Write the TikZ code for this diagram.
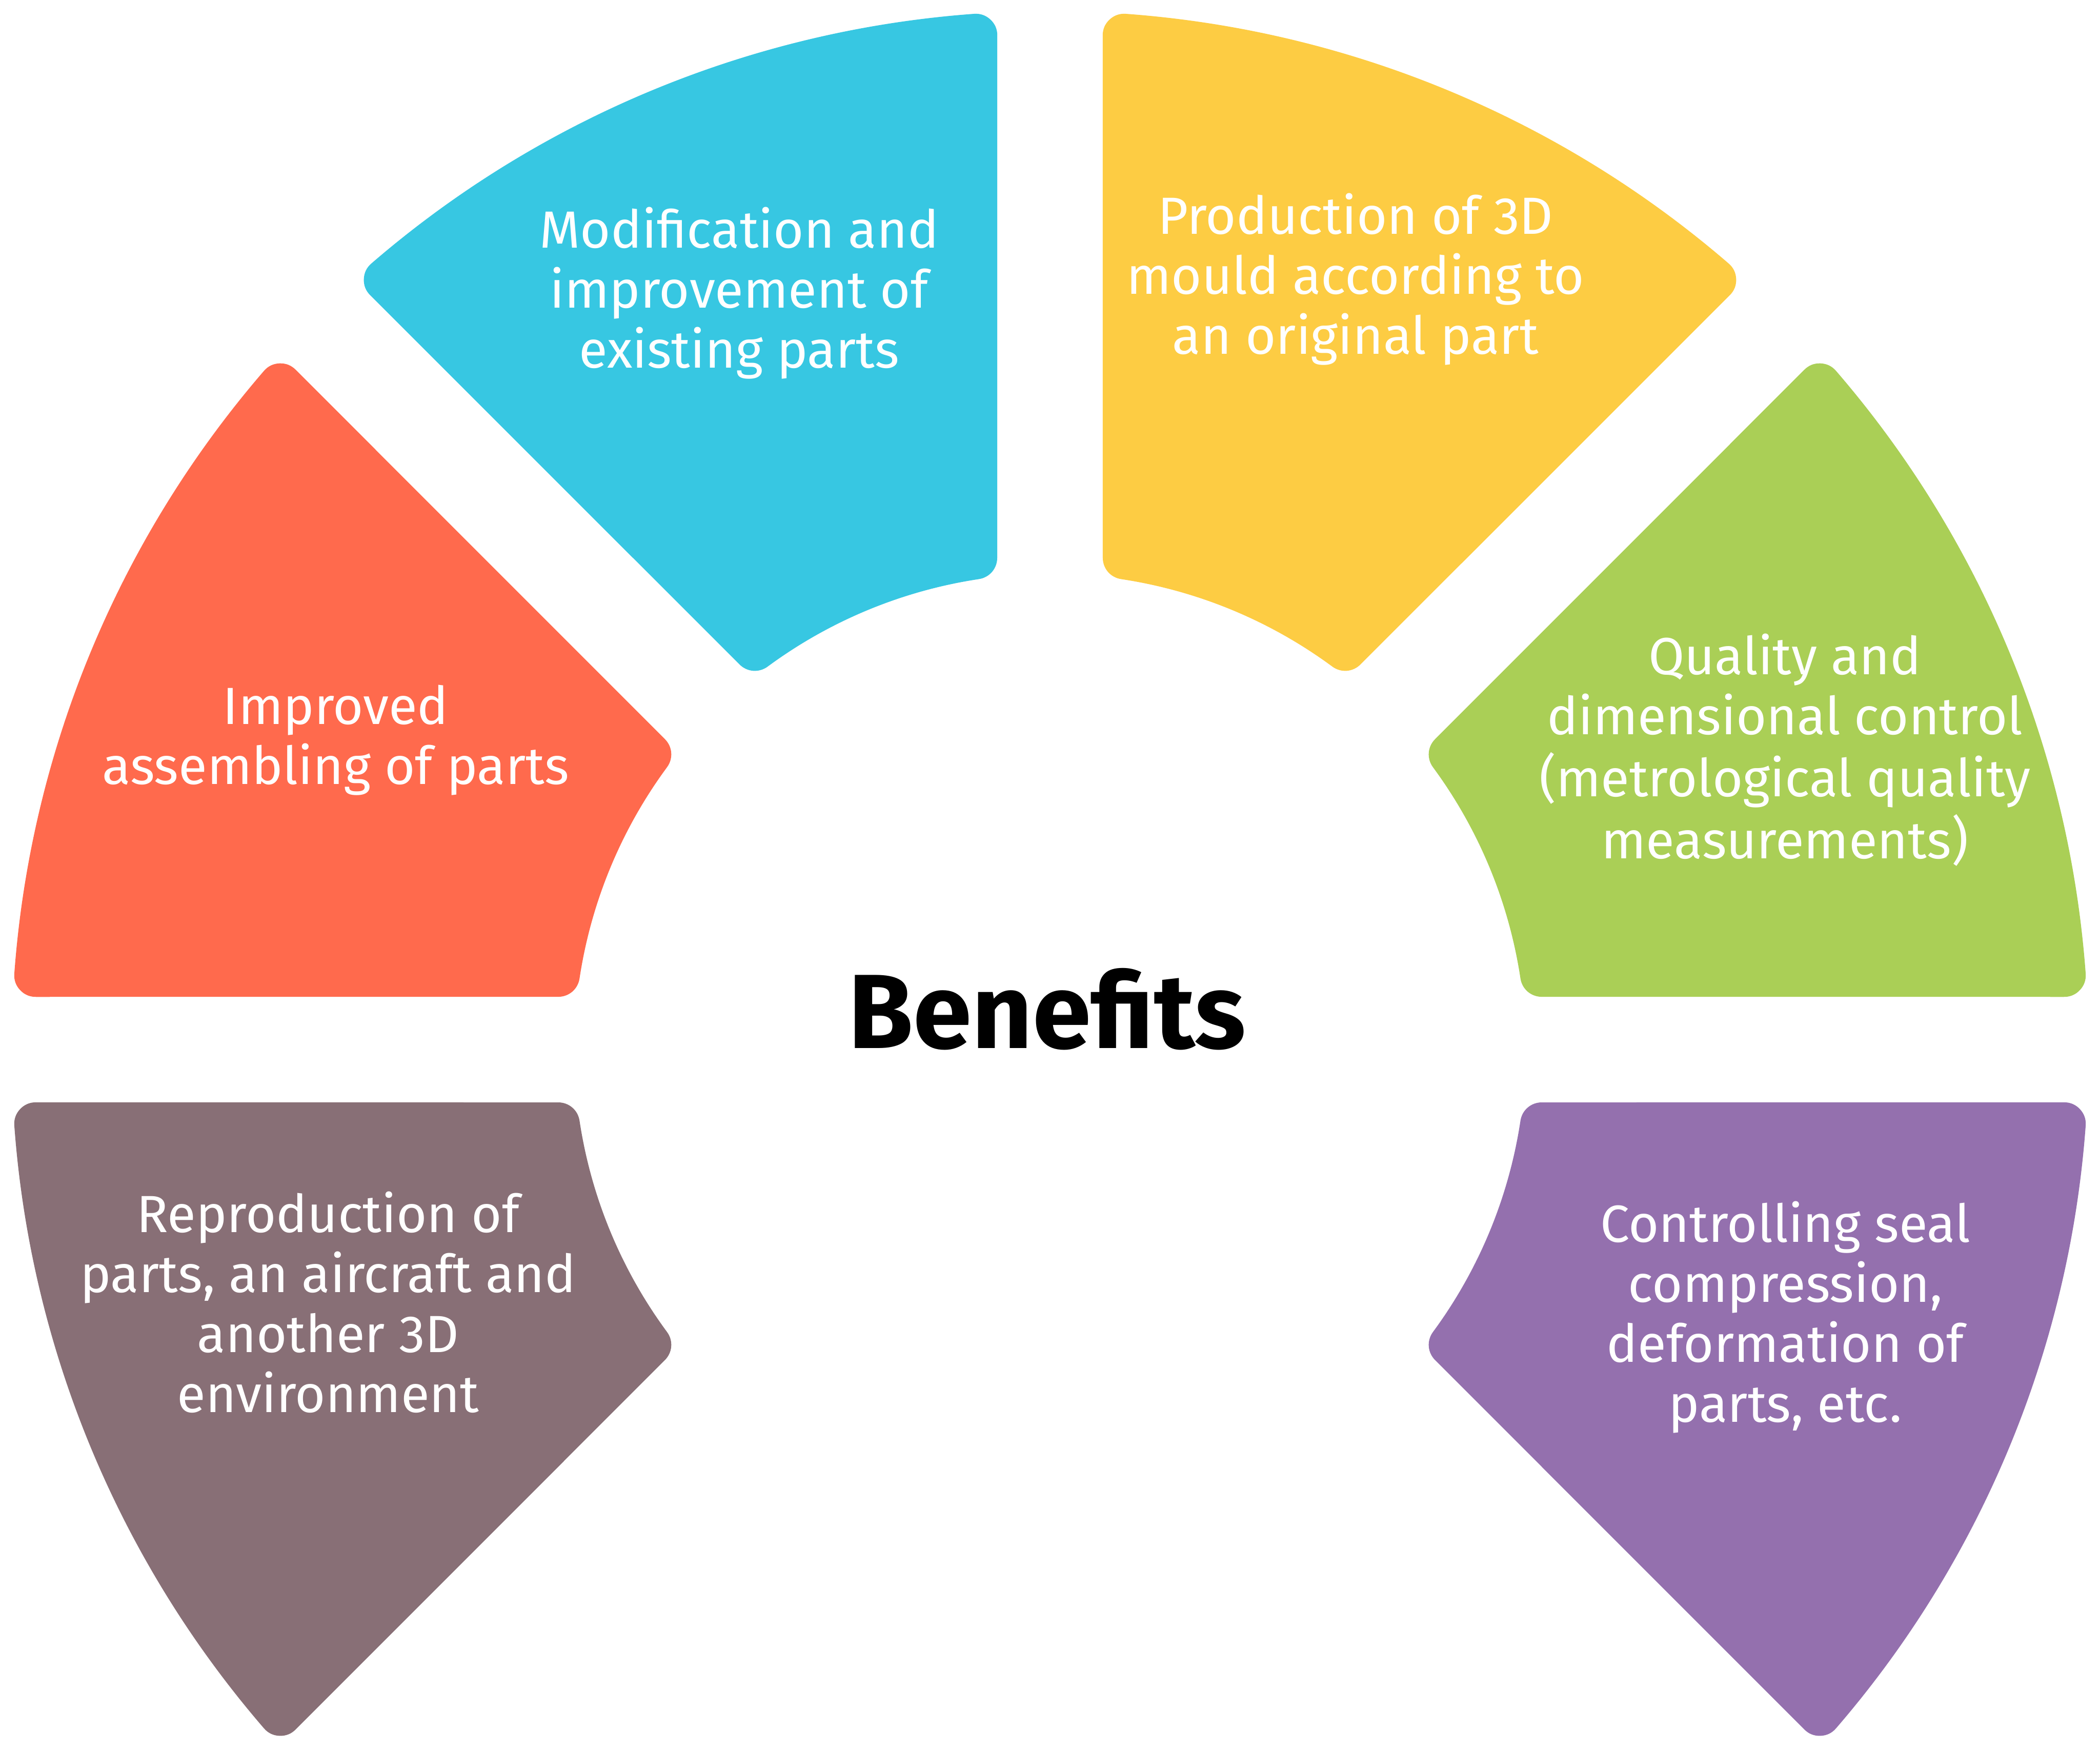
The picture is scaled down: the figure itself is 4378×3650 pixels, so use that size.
\documentclass[tikz,border=0pt]{standalone}
\usepackage{fontspec}
\setmainfont{Fira Sans}
\definecolor{cgreen}{HTML}{AACF56}
\definecolor{cyellow}{HTML}{FDCC43}
\definecolor{cblue}{HTML}{37C7E2}
\definecolor{cred}{HTML}{FF6A4D}
\definecolor{cbrown}{HTML}{886F76}
\definecolor{cpurple}{HTML}{9470AE}
\newcommand\blk[1]{\begin{tabular}[t]{@{}c@{}}#1\end{tabular}}
\begin{document}
\begin{tikzpicture}[x=0.5pt,y=0.5pt,
  petal/.style={fill=#1,draw=#1,line width=45pt,line join=round},
  lbl/.style={text=white,inner sep=0pt,anchor=base,font=\fontsize{54.5}{62.5}\selectfont},
  title/.style={text=black,inner sep=0pt,anchor=base,font=\fontsize{110}{130}\selectfont\bfseries}]
\fill[white] (-2189,-1462) rectangle (2189,2188);
\useasboundingbox (-2189,-1462) rectangle (2189,2188);
\foreach \a/\c in {0/cgreen,45/cyellow,90/cblue,135/cred,180/cbrown,315/cpurple}{
  \filldraw[petal=\c] ({\a+4.19}:2120) arc[start angle={\a+4.19}, end angle={\a+45-4.19}, radius=2120]
    -- ({\a+45-8.60}:1037) arc[start angle={\a+45-8.60}, end angle={\a+8.60}, radius=1037] -- cycle;
}
\node[title] (center) at (-6,3) {Benefits};
\node[lbl] (modif) at (-648,1671) {\blk{Modification and\\improvement of\\existing parts}};
\node[lbl] (mould) at (637,1700) {\blk{Production of 3D\\mould according to\\an original part}};
\node[lbl] (assem) at (-1489,678) {\blk{Improved\\assembling of parts}};
\node[lbl] (quality) at (1532,782) {\blk{Quality and\\dimensional control\\(metrological quality\\measurements)}};
\node[lbl] (repro) at (-1505,-381) {\blk{Reproduction of\\parts, an aircraft and\\another 3D\\environment}};
\node[lbl] (seal) at (1533,-401) {\blk{Controlling seal\\compression,\\deformation of\\parts, etc.}};
\end{tikzpicture}
\end{document}
